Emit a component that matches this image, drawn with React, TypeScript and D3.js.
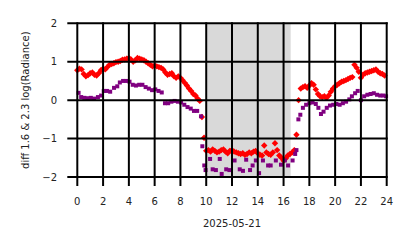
import React from "react";
import * as d3 from "d3";

// Red series: 10-minute samples starting at 00:00 (hours)
const redValues: number[] = [
  0.78, 0.82, 0.80, 0.68, 0.62, 0.65, 0.70, 0.72, 0.66, 0.64, 0.70, 0.78,
  0.82, 0.80, 0.86, 0.92, 0.94, 0.96, 0.99, 1.00, 1.02, 1.05, 1.06, 1.08,
  1.10, 1.06, 1.00, 1.04, 1.10, 1.08, 1.06, 1.04, 1.00, 0.96, 0.92, 0.88,
  0.90, 0.88, 0.86, 0.84, 0.80, 0.72, 0.66, 0.68, 0.70, 0.62, 0.58, 0.62,
  0.58, 0.52, 0.45, 0.38, 0.30, 0.24, 0.16, 0.12, 0.04, -0.02, -0.44, -0.98,
  -1.32, -1.30, -1.34, -1.28, -1.32, -1.36, -1.34, -1.30, -1.28, -1.34, -1.38, -1.32,
  -1.30, -1.34, -1.36, -1.38, -1.40, -1.38, -1.42, -1.40, -1.36, -1.38, -1.34, -1.32,
  -1.38, -1.42, -1.44, -1.18, -1.36, -1.40, -1.42, -1.36, -1.12, -1.30, -1.44, -1.50,
  -1.58, -1.52, -1.44, -1.40, -1.36, -1.30, -0.90, 0.00, 0.30, 0.34, 0.36, 0.32,
  0.38, 0.44, 0.40, 0.28, 0.16, 0.10, 0.08, 0.10, 0.06, 0.12, 0.22, 0.30,
  0.36, 0.40, 0.44, 0.48, 0.50, 0.52, 0.55, 0.58, 0.60, 0.92, 0.84, 0.74,
  0.58, 0.66, 0.70, 0.72, 0.74, 0.76, 0.78, 0.80, 0.74, 0.70, 0.68, 0.64,
];
const redTimes: number[] = redValues.map((_, i) => i / 6);

// Purple series (hours, value)
const purpleTimes: number[] = [
  0.1, 0.3, 0.55, 0.8, 1.05, 1.3, 1.6, 1.85, 2.05, 2.3, 2.55, 2.85, 3.1, 3.3, 3.55, 3.8,
  4.05, 4.3, 4.55, 4.8, 5.05, 5.3, 5.55, 5.8, 6.05, 6.3, 6.55, 6.8, 7.05, 7.3, 7.55, 7.8,
  8.05, 8.3, 8.55, 8.8, 9.05, 9.3, 9.6, 9.7, 9.85, 9.95, 10.3, 10.5, 10.75, 11.05, 11.2,
  11.55, 11.8, 12.2, 12.6, 12.85, 13.1, 13.4, 13.6, 13.85, 14.1, 14.4, 14.8, 15.0, 15.4,
  15.8, 16.1, 16.35, 16.7, 16.9, 17.0, 17.15, 17.3, 17.5, 17.75, 18.0, 18.25, 18.5, 18.7,
  18.9, 19.1, 19.35, 19.6, 19.85, 20.1, 20.35, 20.6, 20.85, 21.1, 21.3, 21.55, 21.75,
  22.0, 22.25, 22.5, 22.75, 23.0, 23.25, 23.5, 23.75, 23.95,
];
const purpleValues: number[] = [
  0.19, 0.08, 0.06, 0.05, 0.06, 0.04, 0.08, 0.12, 0.24, 0.24, 0.22, 0.32, 0.36, 0.46, 0.50, 0.50,
  0.48, 0.40, 0.38, 0.40, 0.40, 0.34, 0.30, 0.26, 0.28, 0.24, 0.20, -0.08, -0.08, -0.04, -0.02, -0.04,
  -0.06, -0.12, -0.18, -0.22, -0.28, -0.28, -0.42, -1.20, -1.70, -1.82, -1.53, -1.80, -1.82, -1.53, -1.92,
  -1.80, -1.82, -1.57, -1.80, -1.84, -1.55, -1.82, -1.70, -1.57, -1.90, -1.57, -1.70, -1.70, -1.57,
  -1.68, -1.57, -1.70, -1.57, -1.40, -1.30, -0.50, -0.38, -0.20, -0.12, -0.08, -0.06, -0.10, -0.20,
  -0.36, -0.30, -0.20, -0.14, -0.12, -0.10, -0.12, -0.08, -0.04, 0.02, 0.10, 0.18, 0.24,
  0.00, 0.10, 0.14, 0.16, 0.18, 0.14, 0.12, 0.12, 0.10,
];

const xTicks: number[] = [0, 2, 4, 6, 8, 10, 12, 14, 16, 18, 20, 22, 24];
const yTicks: number[] = [-2, -1, 0, 1, 2];
const shadeRange: number[] = [10.0, 16.55];
const xLabel = "2025-05-21";
const yLabel = "diff 1.6 & 2.3 log(Radiance)";

export default function App() {
  const W = 414, H = 248;
  const x = d3.scaleLinear().domain([0, 24]).range([77.3, 386.7]);
  const y = d3.scaleLinear().domain([-2, 2]).range([177, 23.3]);
  const font = "DejaVu Sans, sans-serif";
  const diamond = (cx: number, cy: number) => {
    const r = 3.2;
    return `M${cx},${cy - r}L${cx + r},${cy}L${cx},${cy + r}L${cx - r},${cy}Z`;
  };
  const fmt = (v: number) => (v < 0 ? "\u2212" + Math.abs(v) : String(v));
  return (
    <svg width={W} height={H} style={{ position: "absolute", left: 0, top: 0 }}>
      <rect width={W} height={H} fill="#fff" />
      <rect
        x={x(shadeRange[0])}
        y={y(2)}
        width={x(shadeRange[1]) - x(shadeRange[0])}
        height={y(-2) - y(2)}
        fill="#d9d9d9"
      />
      {redTimes.map((t, i) => (
        <path key={"r" + i} d={diamond(x(t), y(redValues[i]))} fill="#ff0000" />
      ))}
      {purpleTimes.map((t, i) => (
        <rect
          key={"p" + i}
          x={x(t) - 2}
          y={y(purpleValues[i]) - 2}
          width={4}
          height={4}
          fill="#800080"
        />
      ))}
      {xTicks.map((t) => (
        <g key={"xt" + t}>
          <line x1={x(t)} x2={x(t)} y1={y(2) - 1} y2={y(-2) + 9} stroke="#000" strokeWidth={2} />
          <text x={x(t)} y={205} fontSize={10} fontFamily={font} textAnchor="middle" fill="#222">
            {t}
          </text>
        </g>
      ))}
      {yTicks.map((t) => (
        <g key={"yt" + t}>
          <line x1={x(0) - 10} x2={x(24) + 1} y1={y(t)} y2={y(t)} stroke="#000" strokeWidth={2} />
          <text
            x={57}
            y={y(t) + 3.6}
            fontSize={10}
            fontFamily={font}
            textAnchor="end"
            fill="#222"
          >
            {fmt(t)}
          </text>
        </g>
      ))}
      <text x={x(12)} y={227} fontSize={10} fontFamily={font} textAnchor="middle" fill="#222">
        {xLabel}
      </text>
      <text
        transform={`translate(29,${(y(2) + y(-2)) / 2}) rotate(-90)`}
        fontSize={10}
        fontFamily={font}
        textAnchor="middle"
        fill="#222"
      >
        {yLabel}
      </text>
    </svg>
  );
}
